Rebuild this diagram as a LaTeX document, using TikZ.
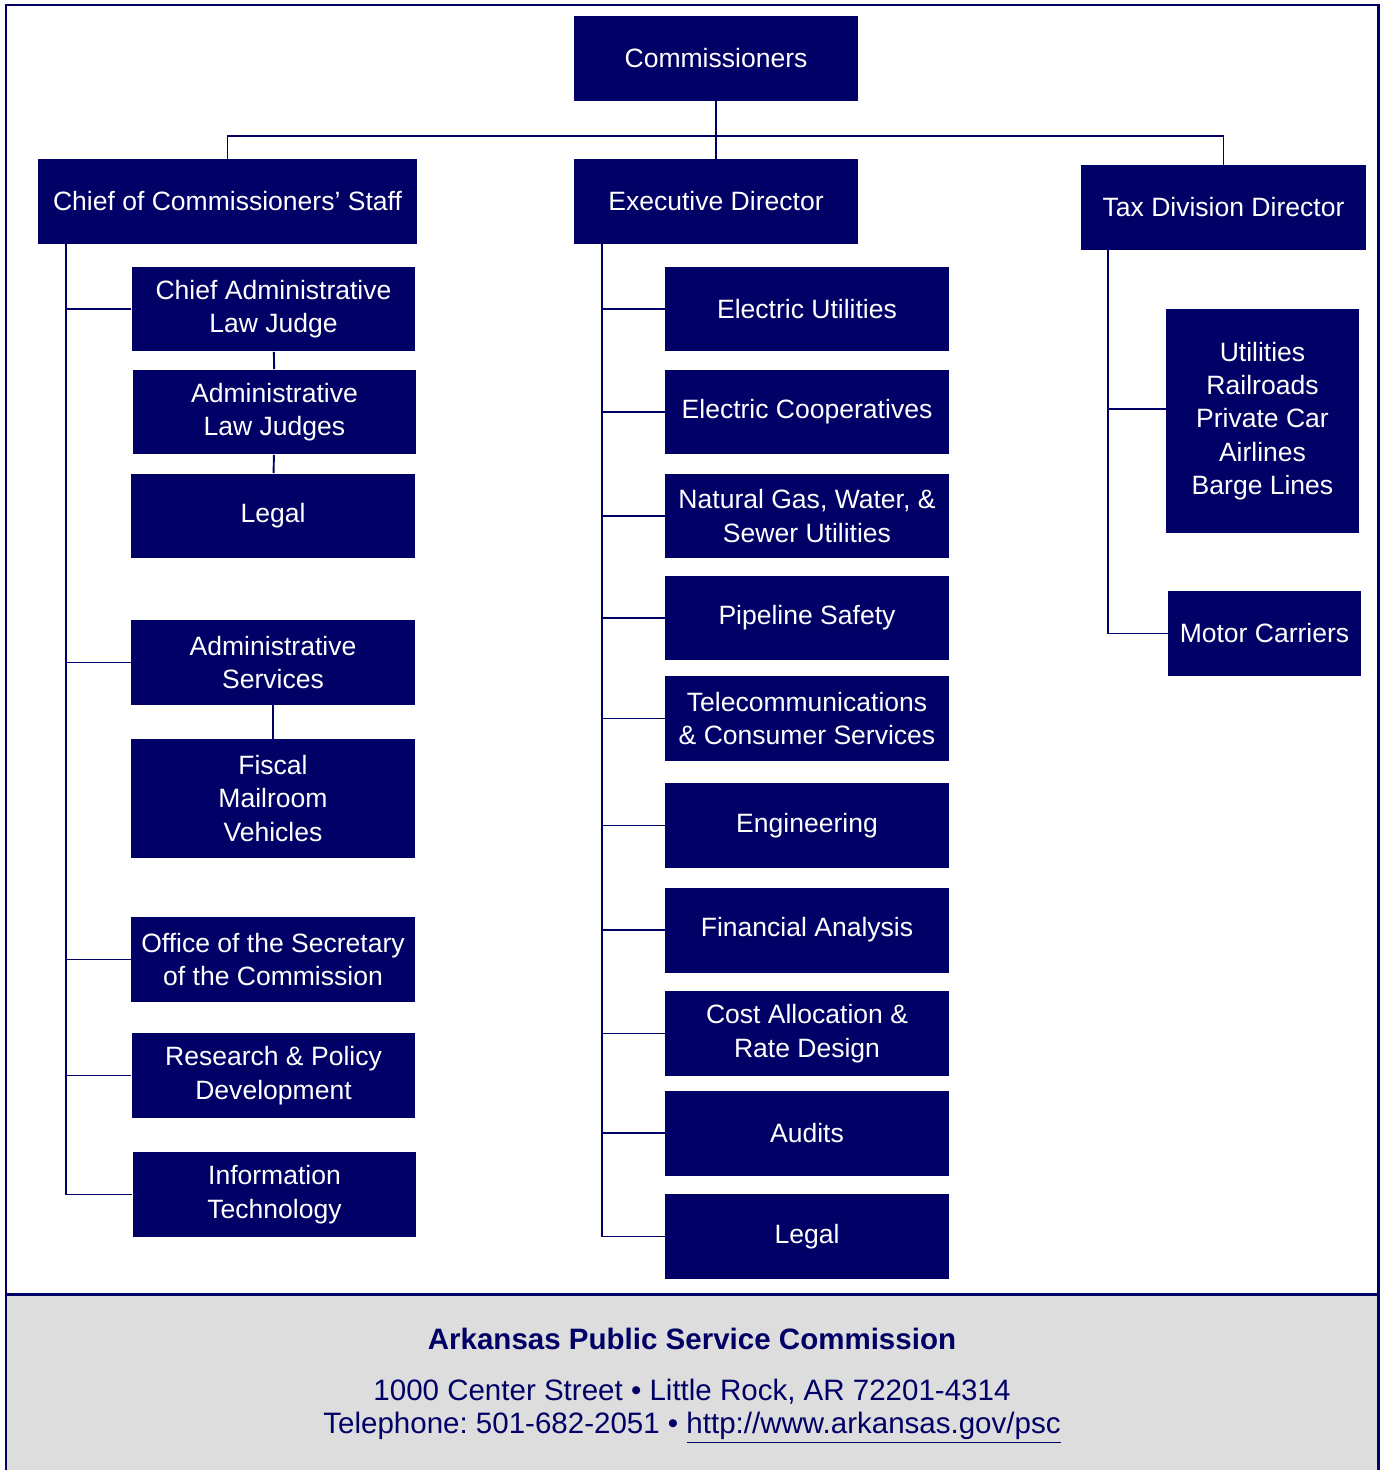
\documentclass[tikz,border=0pt]{standalone}
\usepackage{fontspec}
\setmainfont{Liberation Sans}
\usepackage{tikz}
\frenchspacing

\definecolor{navy}{RGB}{0,0,102}
\definecolor{footgray}{RGB}{221,221,221}

\begin{document}
\begin{tikzpicture}[x=0.02cm, y=-0.02cm,
    box/.style={fill=navy, text=white, align=center, inner sep=0pt,
        minimum width=5.68cm, minimum height=1.7cm,
        font=\fontsize{15.1}{19}\selectfont},
    foot/.style={text=navy, font=\fontsize{16.8}{20}\selectfont},
    link/.style={draw=navy, line width=1.1pt}]
    \useasboundingbox (0,0) rectangle (1382,1470);

    % Footer and frame
    \fill[footgray] (6,1294) rectangle (1378,1470);
    \draw[navy, line width=1.7pt] (6,1470) -- (6,5) -- (1378,5) -- (1378,1470);
    \draw[navy, line width=1.7pt] (6,1294) -- (1378,1294);

    % Top level
    \node[box] (comm) at (716,58.5) {Commissioners};
    \node[box, minimum width=7.58cm] (cs) at (227.5,201.5) {Chief of Commissioners’ Staff};
    \node[box] (ed) at (716,201.5) {Executive Director};
    \node[box, minimum width=5.7cm] (tdd) at (1223.5,207.5) {Tax Division Director};

    \coordinate (bar) at (716,136);
    \draw[link] (comm) -- (ed);
    \draw[link] (bar) -| (cs);
    \draw[link] (bar) -| (tdd);

    % Chief of staff column
    \node[box] (calj) at (273.5,309) {Chief Administrative\\Law Judge};
    \node[box] (alj) at (274.5,412) {Administrative\\Law Judges};
    \node[box] (lg1) at (273,516) {Legal};
    \node[box] (as) at (273,662.5) {Administrative\\Services};
    \node[box, minimum height=2.38cm] (fmv) at (273,798.5) {Fiscal\\Mailroom\\Vehicles};
    \node[box] (osc) at (273,959.5) {Office of the Secretary\\of the Commission};
    \node[box] (rpd) at (273.5,1075.5) {Research \& Policy\\Development};
    \node[box] (it) at (274.5,1194.5) {Information\\Technology};

    \coordinate (lt) at (66,244);
    \foreach \n in {calj,as,osc,rpd,it}
        \draw[link] (lt) |- (\n);
    \draw[link] (calj) -- (alj) -- (lg1);
    \draw[link] (as) -- (fmv);

    % Executive director column
    \node[box] (eu) at (807,309) {Electric Utilities};
    \node[box] (ec) at (807,412) {Electric Cooperatives};
    \node[box] (ng) at (807,516) {Natural Gas, Water, \&\\Sewer Utilities};
    \node[box] (ps) at (807,618) {Pipeline Safety};
    \node[box] (tcs) at (807,718.5) {Telecommunications\\\& Consumer Services};
    \node[box] (eng) at (807,825.5) {Engineering};
    \node[box] (fa) at (807,930) {Financial Analysis};
    \node[box] (ca) at (807,1033.5) {Cost Allocation \&\\Rate Design};
    \node[box] (aud) at (807,1133) {Audits};
    \node[box] (lg2) at (807,1236.5) {Legal};

    \coordinate (mt) at (602,244);
    \foreach \n in {eu,ec,ng,ps,tcs,eng,fa,ca,aud,lg2}
        \draw[link] (mt) |- (\n);

    % Tax division column
    \node[box, minimum width=3.86cm, minimum height=4.48cm] (utl) at (1262.5,421)
        {Utilities\\Railroads\\Private Car\\Airlines\\Barge Lines};
    \node[box, minimum width=3.86cm] (mc) at (1264.5,633.5) {Motor Carriers};

    \coordinate (rt) at (1108,250);
    \draw[link] (rt) |- ([yshift=0.24cm]utl.west);
    \draw[link] (rt) |- (mc);

    % Address block
    \node[foot, font=\fontsize{16.8}{20}\selectfont\bfseries] (apsc) at (692,1339)
        {Arkansas Public Service Commission};
    \node[foot] (addr) at (692,1392)
        {1000 Center Street • Little Rock, AR 72201-4314};
    \node[foot] (tel) at (692,1428)
        {Telephone: 501-682-2051 • \underline{http://www.arkansas.gov/psc}};
\end{tikzpicture}
\end{document}
